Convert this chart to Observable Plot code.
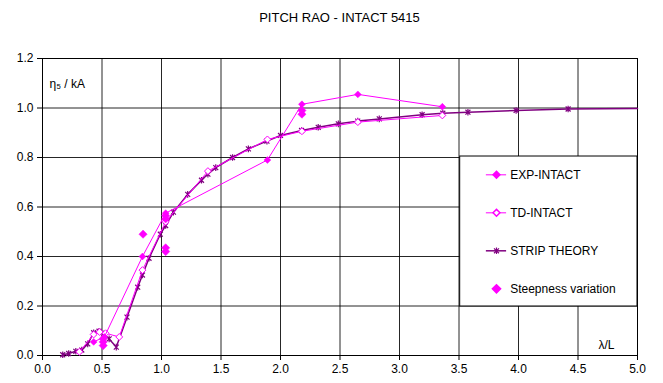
<!DOCTYPE html>
<html><head><meta charset="utf-8">
<script src="https://cdn.jsdelivr.net/npm/d3@7"></script>
<script src="https://cdn.jsdelivr.net/npm/@observablehq/plot@0.6"></script>
<style>
body{margin:0;background:#fff;font-family:"Liberation Sans",Arial,sans-serif;}
#title{width:663px;box-sizing:border-box;padding:10px 26px 0 42px;height:35px;text-align:center;font-size:13px;line-height:15px;color:#000;}
</style></head><body>
<div id="title">PITCH RAO - INTACT 5415</div>
<div id="chart"></div>
<script>
// ---- data ----
const expX = [0.43, 0.52, 0.84, 1.035, 1.89, 2.18, 2.65, 3.36];
const expY = [0.055, 0.075, 0.40, 0.575, 0.79, 1.015, 1.055, 1.005];

const tdX = [0.31, 0.43, 0.48, 0.53, 0.645, 0.84, 1.035, 1.39, 1.89, 2.18, 2.65, 3.36];
const tdY = [0.015, 0.085, 0.095, 0.09, 0.075, 0.345, 0.54, 0.745, 0.873, 0.906, 0.943, 0.97];

const stripX = [0.17, 0.22, 0.28, 0.33, 0.38, 0.43, 0.475, 0.515, 0.56, 0.62, 0.71, 0.80, 0.84, 0.895, 0.99, 1.035, 1.10, 1.22, 1.336, 1.39, 1.456, 1.597, 1.73, 1.886, 2.0, 2.177, 2.317, 2.486, 2.649, 2.83, 3.19, 3.364, 3.575, 3.98, 4.417, 5.0];
const stripY = [0.003, 0.008, 0.017, 0.022, 0.047, 0.092, 0.098, 0.088, 0.067, 0.034, 0.155, 0.276, 0.325, 0.393, 0.49, 0.525, 0.579, 0.651, 0.708, 0.733, 0.759, 0.80, 0.835, 0.866, 0.889, 0.909, 0.922, 0.936, 0.947, 0.956, 0.973, 0.979, 0.983, 0.99, 0.996, 0.998];

const steepX = [0.51, 0.51, 0.51, 0.845, 1.035, 1.035, 1.035, 1.035, 2.18, 2.18];
const steepY = [0.04, 0.055, 0.068, 0.49, 0.435, 0.42, 0.565, 0.552, 0.99, 0.975];

const xTicks = [0, 0.5, 1, 1.5, 2, 2.5, 3, 3.5, 4, 4.5, 5];
const yTicks = [0, 0.2, 0.4, 0.6, 0.8, 1.0, 1.2];
const legendLabels = ["EXP-INTACT", "TD-INTACT", "STRIP THEORY", "Steepness variation"];

// ---- build ----
const zip = (xs, ys) => xs.map((x, i) => ({x, y: ys[i]}));
const exp = zip(expX, expY), td = zip(tdX, tdY), strip = zip(stripX, stripY), steep = zip(steepX, steepY);

const MAG = "#ff00ff", PUR = "#800080";
const star = {draw(ctx, size){ const r = Math.sqrt(size/Math.PI); const d = r*0.75;
  ctx.moveTo(-d,-d); ctx.lineTo(d,d); ctx.moveTo(d,-d); ctx.lineTo(-d,d); ctx.moveTo(0,-r); ctx.lineTo(0,r);} };

// legend layout (in data units of the frame)
const lg = {x1: 3.51, x2: 5.0, y1: 0.198, y2: 0.804, top: 0.73, step: 0.1535, s1: 3.73, s2: 3.90, m: 3.815, t: 3.93};
const legend = legendLabels.map((label, i) => ({label, i, y: lg.top - i*lg.step}));

const chart = Plot.plot({
  width: 663, height: 348,
  marginLeft: 42, marginRight: 26, marginTop: 23, marginBottom: 28,
  style: {fontFamily: '"Liberation Sans", Arial, sans-serif', fontSize: "12px", color: "#000", background: "#fff"},
  x: {domain: [0, 5]},
  y: {domain: [0, 1.2]},
  marks: [
    Plot.gridX(xTicks.slice(1, -1), {stroke: "#000", strokeOpacity: 0.85}),
    Plot.gridY(yTicks.slice(1, -1), {stroke: "#000", strokeOpacity: 0.85}),
    Plot.axisX({ticks: xTicks, tickFormat: d => d.toFixed(1), tickSize: 5, tickPadding: 4, label: null, stroke: "#000", fill: "#000"}),
    Plot.axisY({ticks: yTicks, tickFormat: d => d.toFixed(1), tickSize: 5, tickPadding: 4, label: null, stroke: "#000", fill: "#000"}),
    // legend box (drawn before the data, over the grid)
    Plot.rect([lg], {x1: "x1", x2: "x2", y1: "y1", y2: "y2", fill: "#fff", stroke: "#000"}),
    Plot.frame({stroke: "#000"}),
    // series
    Plot.line(strip, {x: "x", y: "y", stroke: PUR, strokeWidth: 1.5}),
    Plot.dot(strip.slice(0, -1), {x: "x", y: "y", symbol: star, r: 3.3, stroke: PUR, fill: "none", strokeWidth: 1.2}),
    Plot.line(td, {x: "x", y: "y", stroke: MAG, strokeWidth: 1}),
    Plot.dot(td, {x: "x", y: "y", symbol: "diamond2", r: 3.1, stroke: MAG, fill: "#fff", strokeWidth: 1}),
    Plot.line(exp, {x: "x", y: "y", stroke: MAG, strokeWidth: 1}),
    Plot.dot(exp, {x: "x", y: "y", symbol: "diamond2", r: 3.1, fill: MAG, stroke: MAG, strokeWidth: 0.5}),
    Plot.dot(steep, {x: "x", y: "y", symbol: "diamond2", r: 3.7, fill: MAG, stroke: MAG, strokeWidth: 0.5}),
    // axis labels
    Plot.text(["η₅ / kA"], {frameAnchor: "top-left", dx: 7, dy: 26, textAnchor: "start", lineAnchor: "middle", fill: "#000", fontSize: 12}),
    Plot.text(["λ/L"], {frameAnchor: "bottom-right", dx: -31, dy: -10, textAnchor: "middle", lineAnchor: "middle", fill: "#000", fontSize: 12}),
    // legend entries
    Plot.ruleY(legend.slice(0, 3), {y: "y", x1: () => lg.s1, x2: () => lg.s2, stroke: (d) => d.i === 2 ? PUR : MAG, strokeWidth: (d) => d.i === 2 ? 1.5 : 1}),
    Plot.dot(legend.filter(d => d.i === 0), {x: () => lg.m, y: "y", symbol: "diamond2", r: 3.1, fill: MAG, stroke: MAG}),
    Plot.dot(legend.filter(d => d.i === 1), {x: () => lg.m, y: "y", symbol: "diamond2", r: 3.1, fill: "#fff", stroke: MAG}),
    Plot.dot(legend.filter(d => d.i === 2), {x: () => lg.m, y: "y", symbol: star, r: 3.3, fill: "none", stroke: PUR, strokeWidth: 1.2}),
    Plot.dot(legend.filter(d => d.i === 3), {x: () => lg.m, y: "y", symbol: "diamond2", r: 3.7, fill: MAG, stroke: MAG}),
    Plot.text(legend, {x: () => lg.t, y: "y", text: "label", textAnchor: "start", lineAnchor: "middle", fill: "#000", fontSize: 12})
  ]
});
document.getElementById("chart").appendChild(chart);
</script>
</body></html>
